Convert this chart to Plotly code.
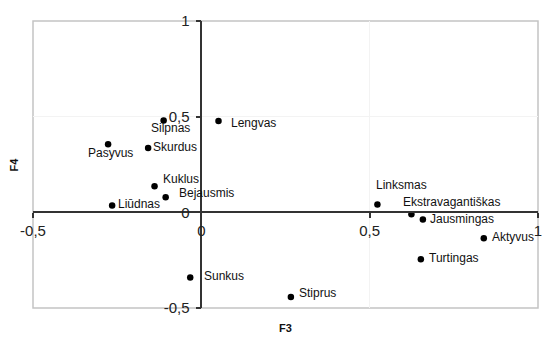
import plotly.graph_objects as go

# Correspondence analysis map: dimensions F3 (x) and F4 (y)
words = ["Lengvas", "Silpnas", "Pasyvus", "Skurdus", "Kuklus", "Bejausmis",
         "Liūdnas", "Sunkus", "Stiprus", "Linksmas", "Ekstravagantiškas",
         "Jausmingas", "Aktyvus", "Turtingas"]
f3 = [0.051, -0.112, -0.277, -0.158, -0.139, -0.106, -0.265, -0.033,
      0.266, 0.523, 0.624, 0.658, 0.839, 0.652]
f4 = [0.477, 0.480, 0.356, 0.336, 0.136, 0.079, 0.036, -0.340,
      -0.443, 0.041, -0.010, -0.037, -0.136, -0.245]

tick_vals = [-0.5, 0, 0.5, 1]
tick_text = ["-0,5", "0", "0,5", "1"]
axis_range = [-0.5, 1]

# label placement: (xanchor, xshift px, yshift px)
label_style = {
    "Lengvas": ("left", 10, -2),
    "Silpnas": ("center", 7, -8),
    "Pasyvus": ("center", 2, -9),
    "Skurdus": ("left", 3, 1),
    "Kuklus": ("left", 6, 7),
    "Bejausmis": ("left", 11, 4),
    "Liūdnas": ("left", 4, 1),
    "Sunkus": ("left", 12, 1),
    "Stiprus": ("left", 6, 4),
    "Linksmas": ("left", -3, 19),
    "Ekstravagantiškas": ("left", -10, 12),
    "Jausmingas": ("left", 5, 0),
    "Aktyvus": ("left", 6, 1),
    "Turtingas": ("left", 6, 1),
}

font_family = "Arial, Liberation Sans, sans-serif"

fig = go.Figure()
fig.add_trace(go.Scatter(
    x=f3, y=f4, mode="markers",
    marker=dict(color="black", size=6.5),
    hoverinfo="text", text=words, showlegend=False,
))

for w, xv, yv in zip(words, f3, f4):
    anchor, dx, dy = label_style[w]
    fig.add_annotation(
        x=xv, y=yv, text=w, showarrow=False,
        xanchor=anchor, yanchor="middle", xshift=dx, yshift=dy,
        font=dict(family=font_family, size=12, color="#111"),
    )

# the axes cross at the origin
zero_frac = (0 - axis_range[0]) / (axis_range[1] - axis_range[0])

axis_common = dict(
    range=axis_range, tickvals=tick_vals, ticktext=tick_text,
    showline=True, linecolor="#333", linewidth=1.5,
    ticks="outside", ticklen=5, tickcolor="#333", tickwidth=1.5,
    showgrid=True, gridcolor="#f3f3f3", gridwidth=1,
    zeroline=False, anchor="free", position=zero_frac,
    tickfont=dict(family=font_family, size=15, color="#222"),
)

fig.update_layout(
    width=557, height=340,
    margin=dict(l=33, r=19, t=15, b=32),
    plot_bgcolor="white", paper_bgcolor="white",
    xaxis=dict(**axis_common, ticklabelstandoff=0),
    yaxis=dict(**axis_common, ticklabelstandoff=3),
    shapes=[dict(type="rect", xref="paper", yref="paper", x0=0, y0=0, x1=1, y1=1,
                 line=dict(color="#c4c4c4", width=1.5), layer="below")],
)

# axis titles
fig.add_annotation(xref="paper", yref="paper", x=0.5, y=0, yshift=-20,
                   text="<b>F3</b>", showarrow=False, yanchor="middle",
                   font=dict(family=font_family, size=11, color="#111"))
fig.add_annotation(xref="paper", yref="paper", x=0, y=0.5, xshift=-20,
                   text="<b>F4</b>", showarrow=False, textangle=-90,
                   xanchor="center", font=dict(family=font_family, size=11, color="#111"))

fig.write_html("out.html")
